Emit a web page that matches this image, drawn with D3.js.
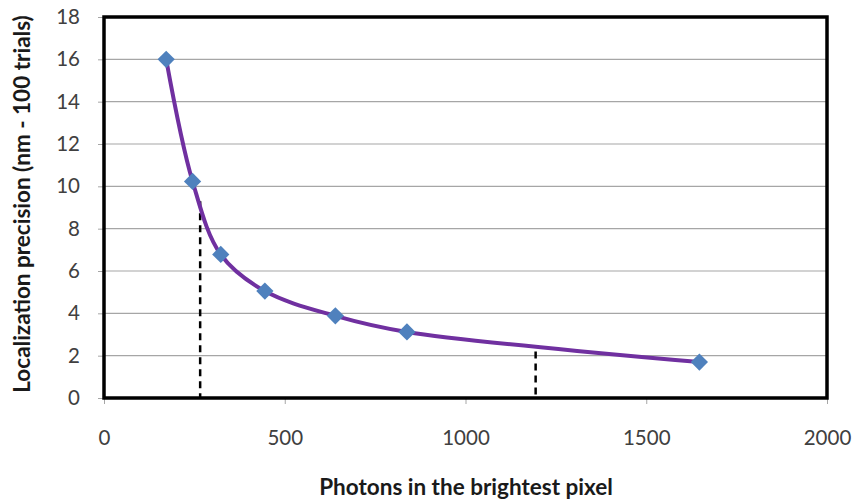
<!DOCTYPE html>
<html>
<head>
<meta charset="utf-8">
<script src="https://cdn.jsdelivr.net/npm/d3@7"></script>
<style>
  html, body { margin: 0; padding: 0; background: #fff; }
  svg { display: block; }
</style>
</head>
<body>
<svg id="chart" width="857" height="504"></svg>
<script>
const photons = [172, 245, 323, 445, 640, 838, 1647];
const precision = [16.0, 10.23, 6.78, 5.05, 3.88, 3.12, 1.7];
const markerX = [266, 1194];
const markerTop = [9.3, 2.2];
const xTicks = [0, 500, 1000, 1500, 2000];
const yTicks = [0, 2, 4, 6, 8, 10, 12, 14, 16, 18];
const xLabel = "Photons in the brightest pixel";
const yLabel = "Localization precision (nm - 100 trials)";

(function () {
const svg = d3.select("#chart");
const pLeft = 104, pRight = 827, pTop = 17, pBottom = 398;
const x = d3.scaleLinear().domain([0, 2000]).range([pLeft, pRight]);
const y = d3.scaleLinear().domain([0, 18]).range([pBottom, pTop]);
const font = "Lato, 'Open Sans', sans-serif";

// gridlines
svg.append("g").selectAll("line").data(yTicks).join("line")
  .attr("x1", pLeft).attr("x2", pRight)
  .attr("y1", d => y(d)).attr("y2", d => y(d))
  .attr("stroke", "#a6a6a6").attr("stroke-width", 1.2);

// y axis
const yAxis = svg.append("g").attr("transform", `translate(${pLeft},0)`)
  .call(d3.axisLeft(y).tickValues(yTicks).tickFormat(d3.format("d")).tickSize(6).tickPadding(18));
yAxis.select(".domain").remove();
yAxis.selectAll("line").attr("stroke", "#a6a6a6");
yAxis.selectAll("text").attr("font-family", font).attr("font-size", 20.5).attr("fill", "#404040");

// x axis
const xAxis = svg.append("g").attr("transform", `translate(0,${pBottom})`)
  .call(d3.axisBottom(x).tickValues(xTicks).tickFormat(d3.format("d")).tickSize(6).tickPadding(26));
xAxis.select(".domain").remove();
xAxis.selectAll("line").attr("stroke", "#a6a6a6");
xAxis.selectAll("text").attr("font-family", font).attr("font-size", 20.5).attr("fill", "#404040");

// dashed marker lines
svg.append("g").selectAll("line").data(markerX).join("line")
  .attr("x1", d => x(d)).attr("x2", d => x(d))
  .attr("y1", (d, i) => y(markerTop[i])).attr("y2", pBottom)
  .attr("stroke", "#000").attr("stroke-width", 2.5)
  .attr("stroke-dasharray", "7,5");

// plot border
svg.append("rect")
  .attr("x", pLeft).attr("y", pTop)
  .attr("width", pRight - pLeft).attr("height", pBottom - pTop)
  .attr("fill", "none").attr("stroke", "#000").attr("stroke-width", 3.5);

// curve
const pts = photons.map((p, i) => [p, precision[i]]);
const line = d3.line().x(d => x(d[0])).y(d => y(d[1])).curve(d3.curveCatmullRom.alpha(0.5));
svg.append("path").datum(pts)
  .attr("d", line)
  .attr("fill", "none").attr("stroke", "#7030a0").attr("stroke-width", 4);

// markers
svg.append("g").selectAll("path").data(pts).join("path")
  .attr("transform", d => `translate(${x(d[0])},${y(d[1])})`)
  .attr("d", d3.symbol(d3.symbolDiamond2, 190)())
  .attr("fill", "#4f81bd");

// axis titles
svg.append("text")
  .attr("x", 466).attr("y", 495)
  .attr("text-anchor", "middle")
  .attr("font-family", font).attr("font-weight", "bold").attr("font-size", 22.5)
  .attr("fill", "#1a1a1a")
  .text(xLabel);

svg.append("text")
  .attr("transform", "translate(30,204) rotate(-90)")
  .attr("text-anchor", "middle")
  .attr("font-family", font).attr("font-weight", "bold").attr("font-size", 22.5)
  .attr("fill", "#1a1a1a")
  .text(yLabel);
})();
</script>
</body>
</html>
